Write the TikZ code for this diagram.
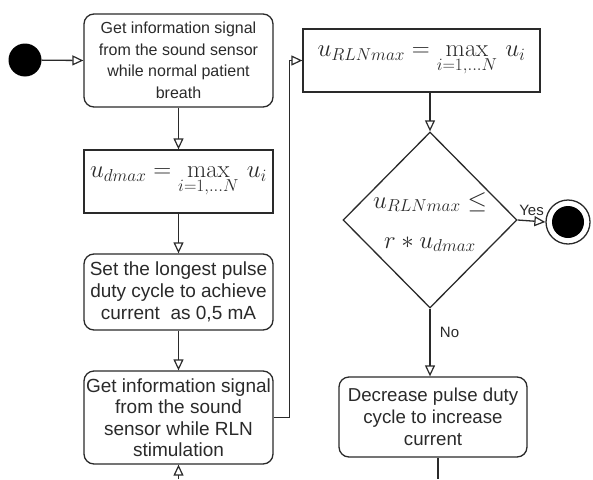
\documentclass[tikz,border=0pt]{standalone}
\usepackage[no-math]{fontspec}
\setmainfont{Liberation Sans}
\usetikzlibrary{arrows.meta,shapes.geometric}
\definecolor{ink}{HTML}{2A2A2A}
\tikzset{
  line/.style={draw=ink, line width=1.3pt},
  arr/.style={line, -{Triangle[open, length=11pt, width=10pt, line width=1.2pt]}},
  rbox/.style={line, rounded corners=10pt, align=center, inner sep=1pt,
    font=\fontsize{19}{22}\selectfont, text=ink},
  sbox/.style={line, align=center, inner sep=2pt, text=ink},
  lbl/.style={font=\fontsize{15}{17}\selectfont, text=ink},
}
\begin{document}
\begin{tikzpicture}[x=1pt,y=-1pt]
\useasboundingbox (0,0) rectangle (593,479);
% start
\node[circle, fill=black, minimum size=33pt, inner sep=0] (start) at (25,60) {};
\node[rbox, minimum width=189pt, minimum height=93pt, font=\fontsize{16}{21.5}\selectfont] (b1) at (178.5,60.5)
  {Get information signal\\from the sound sensor\\while normal patient\\breath};
\node[sbox, minimum width=189pt, minimum height=63pt] (b2) at (178.5,181.5)
  {\fontsize{25}{30}\selectfont$u_{dmax} = \max\limits_{i=1,\ldots N}\, u_i$};
\node[rbox, minimum width=189pt, minimum height=76pt] (b3) at (178.5,292)
  {Set the longest pulse\\duty cycle to achieve\\current\ \ as 0,5 mA};
\node[rbox, minimum width=189pt, minimum height=93pt, font=\fontsize{19}{21.5}\selectfont] (b4) at (178.5,417.5)
  {Get information signal\\from the sound\\sensor while RLN\\stimulation};
\node[sbox, minimum width=237pt, minimum height=63pt] (b5) at (421.5,60.5)
  {\fontsize{23}{28}\selectfont$u_{RLNmax} = \max\limits_{i=1,\ldots N}\, u_i$};
\node[line, diamond, minimum width=174pt, minimum height=176pt, inner sep=0, aspect=1] (d) at (430,220) {};
\node[text=ink, align=center, font=\fontsize{23}{40}\selectfont] (dt) at (430,222)
  {$u_{RLNmax} \le$\\$r * u_{dmax}$};
\node[rbox, minimum width=188pt, minimum height=80pt, font=\fontsize{18.7}{22}\selectfont] (b6) at (433,417)
  {Decrease pulse duty\\cycle to increase\\current};
% end
\node[circle, line, minimum size=44pt, inner sep=0] (end) at (568,222) {};
\node[circle, fill=black, minimum size=32pt, inner sep=0] (endin) at (568,222) {};
\coordinate (in4) at (178.5,479);
\coordinate (out6) at (438,479);
% connectors
\draw[arr] (start) -- (b1.west);
\draw[arr] (b1) -- (b2);
\draw[arr] (b2) -- (b3);
\draw[arr] (b3) -- (b4);
\draw[arr] (in4) -- (b4.south);
\draw[arr] (b4.east) -- ++(16,0) |- (b5.west);
\draw[arr] (b5.south -| d.north) -- (d.north);
\draw[arr] (d.east) -- node[lbl, above=1pt] {Yes} (end.west);
\draw[arr] (d.south) -- node[lbl, right=6pt, pos=0.35] {No} (d.south |- b6.north);
\draw[line] (b6.south -| out6) -- (out6);
\end{tikzpicture}
\end{document}
